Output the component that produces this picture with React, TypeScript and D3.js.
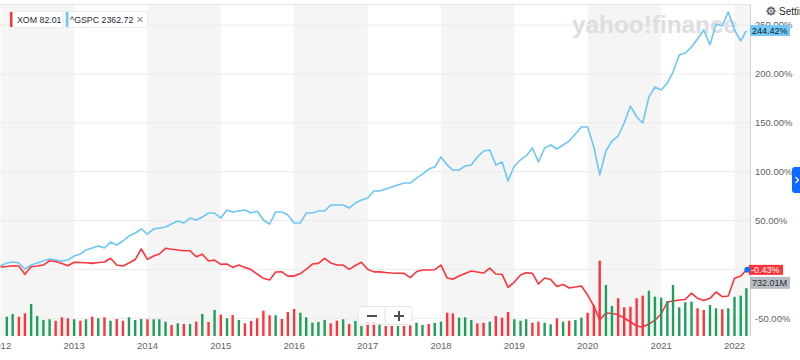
import React from 'react';
import * as d3 from 'd3';

// Monthly % change since start (Jan 2012 .. Mar 2022)
const gspcPct = [
  3.5, 6.6, 7.6, 6.6, 0.4, 4.5, 6.6, 8.6, 10.6, 9.6, 8.6, 9.6,
  13.7, 15.8, 19.9, 21.9, 24.0, 21.9, 28.0, 25.0, 29.1, 34.2, 37.3, 41.4,
  36.2, 41.4, 42.4, 43.4, 46.5, 49.5, 47.5, 52.6, 50.6, 53.6, 57.7, 57.7,
  52.6, 60.8, 58.7, 59.8, 60.8, 57.7, 59.8, 50.6, 46.5, 58.7, 58.7, 55.7,
  47.5, 47.5, 57.7, 57.7, 59.8, 59.8, 65.9, 65.9, 65.9, 62.8, 68.0, 71.0,
  73.1, 80.2, 80.2, 82.3, 84.3, 86.4, 88.4, 88.4, 93.5, 97.6, 102.7, 104.8,
  115.0, 106.8, 101.7, 101.7, 105.8, 106.8, 115.0, 121.2, 122.2, 106.8, 109.9, 90.5,
  105.8, 112.0, 116.1, 124.3, 109.9, 124.3, 127.3, 123.2, 127.3, 131.4, 138.6, 145.8,
  145.8, 125.3, 96.7, 121.2, 131.4, 136.5, 149.8, 167.2, 156.0, 149.8, 176.5, 186.7,
  183.6, 190.8, 202.0, 219.4, 221.5, 227.6, 235.8, 245.0, 229.7, 251.2, 249.1, 263.5,
  245.0, 233.8, 244.42,
];

const xomPct = [
  2.5, 3.0, 3.8, 3.5, -5.0, 2.8, 3.5, 4.5, 8.9, 8.1, 6.0, 3.8,
  7.3, 7.1, 6.9, 6.2, 7.1, 7.6, 11.4, 4.5, 3.5, 6.6, 10.1, 20.9,
  10.3, 13.7, 15.8, 21.6, 20.6, 19.9, 19.1, 19.1, 13.0, 15.5, 8.6, 9.6,
  5.2, 5.5, 2.1, 4.5, 2.1, -0.1, -4.7, -9.1, -10.8, -2.7, -2.4, -6.8,
  -6.8, -4.2, 0.1, 5.5, 6.2, 11.4, 6.6, 4.5, 4.5, 0.1, 4.0, 7.3,
  0.1, -2.5, -2.5, -3.2, -3.7, -3.9, -4.0, -8.3, -2.4, -0.6, -0.6, -0.3,
  4.5, -8.8, -10.1, -6.8, -4.2, -1.6, -2.7, -3.7, 1.4, -4.7, -5.0, -18.3,
  -12.9, -5.7, -3.4, -4.0, -14.9, -8.8, -10.3, -17.5, -15.3, -19.0, -18.0, -17.0,
  -26.2, -37.5, -51.8, -44.6, -45.1, -46.2, -49.7, -53.8, -57.9, -58.9, -55.9, -51.8,
  -45.6, -33.4, -32.3, -31.3, -30.8, -24.2, -29.6, -31.8, -29.6, -23.1, -27.9, -27.2,
  -9.1, -6.8, -0.43,
];

// XOM monthly volume in millions (Feb 2012 .. Mar 2022)
const volumeM = [
  295, 337, 295, 347, 490, 306, 245, 256, 234, 286, 271,
  256, 234, 256, 295, 271, 286, 234, 260, 234, 286, 245, 260,
  256, 256, 256, 219, 168, 194, 184, 184, 219, 337, 214, 398,
  326, 271, 321, 245, 194, 230, 271, 387, 317, 317, 260, 367,
  413, 356, 286, 203, 214, 245, 194, 234, 256, 184, 230, 153,
  214, 214, 194, 153, 153, 153, 153, 161, 203, 168, 184, 199,
  219, 356, 347, 280, 286, 245, 194, 203, 219, 306, 280, 367,
  256, 234, 256, 203, 219, 203, 179, 271, 219, 234, 245, 280,
  356, 474, 1152, 780, 459, 577, 439, 448, 577, 617, 693, 601,
  586, 536, 780, 439, 516, 525, 424, 398, 474, 424, 409, 424,
  601, 617, 732,
];
// G = up month, R = down month
const volumeDir =
  'GGRRGGGGRR' + 'RGRGRGRGRR' + 'GGGRGGGRGR' + 'GRGRGRGRGR' + 'RRRRGRRRGG' +
  'GGGRRGRGGR' + 'RGRRGRRGGR' + 'GGRRGGGRRG' + 'RRRGGGRRGG' + 'RGRGGRRRGG' +
  'RRRRRGGGGG' + 'GGGRRGGRGG' + 'GG';

const yTicks = [250, 200, 150, 100, 50, 0, -50];
const yearTicks = [2012, 2013, 2014, 2015, 2016, 2017, 2018, 2019, 2020, 2021, 2022];
const legendSymbols = ['XOM', '^GSPC'];
const legendValues = ['82.01', '2362.72'];
const lastGspcLabel = '244.42%';
const lastXomLabel = '-0.43%';
const lastVolLabel = '732.01M';

const months = gspcPct.map((_, i) => new Date(2012, i, 1));

const RED = '#ff333a';
const BLUE = '#6cc6f6';
const GREEN = '#1f9f59';
const FONT = 'Arial, "Liberation Sans", Helvetica, sans-serif';

export default function App() {
  const plotRight = 750;
  const x = d3.scaleTime().domain([new Date(2012, 0, 1), new Date(2022, 0, 1)]).range([0.6, 734.5]);
  const y = d3.scaleLinear().domain([-50, 250]).range([318.3, 25.1]);
  const yv = d3.scaleLinear().domain([0, 1530]).range([336, 236]);

  const line = d3
    .line<number>()
    .x((_, i) => x(months[i]))
    .y((d) => y(d));

  const lastX = x(months[months.length - 1]);
  const gy = y(gspcPct[gspcPct.length - 1]);
  const xy = y(xomPct[xomPct.length - 1]);

  return (
    <svg
      width={800}
      height={360}
      style={{ position: 'absolute', left: 0, top: 0, display: 'block', background: '#fff' }}
      fontFamily={FONT}
    >
      {/* year bands */}
      {yearTicks
        .filter((yr) => yr % 2 === 0)
        .map((yr) => {
          const x0 = Math.max(0, x(new Date(yr, 0, 1)));
          const x1 = Math.min(plotRight, x(new Date(yr + 1, 0, 1)));
          return <rect key={yr} x={x0} y={5} width={x1 - x0} height={331} fill="#f5f5f5" />;
        })}
      <line x1={0} x2={plotRight} y1={4.5} y2={4.5} stroke="#e4e4e4" />
      {/* grid */}
      {yTicks.map((t) => (
        <line key={t} x1={0} x2={plotRight} y1={y(t)} y2={y(t)} stroke="#ebebeb" strokeWidth={1} />
      ))}
      {/* watermark */}
      <text x={572} y={33} fontSize={24} fontWeight={700} fill="#dcdee1" textLength={165} lengthAdjust="spacingAndGlyphs">
        yahoo!finance
      </text>
      {/* lines */}
      <path d={line(gspcPct) || ''} fill="none" stroke={BLUE} strokeWidth={1.6} strokeLinejoin="round" />
      <path d={line(xomPct) || ''} fill="none" stroke={RED} strokeWidth={1.6} strokeLinejoin="round" />
      {/* volume */}
      {volumeM.map((v, k) => {
        const i = k + 1;
        const cx = x(months[i]);
        return (
          <rect
            key={i}
            x={cx - 1.2}
            y={yv(v)}
            width={2.4}
            height={yv(0) - yv(v)}
            fill={volumeDir[k] === 'G' ? GREEN : RED}
          />
        );
      })}
      {/* right axis */}
      <line x1={plotRight + 0.5} x2={plotRight + 0.5} y1={5} y2={336} stroke="#cfd1d4" />
      {yTicks
        .filter((t) => t !== 0)
        .map((t) => (
          <text key={t} x={755} y={y(t)} dy="0.35em" fontSize={9.5} fill="#5b636a">
            {t.toFixed(2)}%
          </text>
        ))}
      {/* x axis labels */}
      {yearTicks.map((yr) => (
        <text key={yr} x={x(new Date(yr, 0, 1))} y={346} dy="0.35em" fontSize={9.5} fill="#5b636a" textAnchor="middle">
          {yr}
        </text>
      ))}
      {/* last value flags */}
      <rect x={750} y={gy - 5.5} width={40} height={11} fill="#74c8f6" />
      <text x={752} y={gy} dy="0.35em" fontSize={9} fill="#0d1b2a">
        {lastGspcLabel}
      </text>
      <rect x={749} y={xy - 5} width={34} height={10} fill={RED} />
      <text x={751} y={xy} dy="0.35em" fontSize={9} fill="#fff">
        {lastXomLabel}
      </text>
      <rect x={750} y={xy + 7} width={40} height={12} fill="#b8bcc2" />
      <text x={752} y={xy + 13} dy="0.35em" fontSize={9} fill="#2a2f36">
        {lastVolLabel}
      </text>
      <circle cx={lastX + 1} cy={xy} r={3} fill="#1170f5" />
      {/* legend pills */}
      <g>
        <rect x={9.5} y={11.5} width={54} height={16} fill="#fff" stroke="#ececec" rx={1.5} />
        <rect x={10} y={12} width={2.5} height={15} fill={RED} />
        <text x={17} y={19.5} dy="0.35em" fontSize={8.8} fill="#232a31">
          {legendSymbols[0]} {legendValues[0]}
        </text>
        <rect x={65.5} y={11.5} width={82} height={16} fill="#fff" stroke="#ececec" rx={1.5} />
        <rect x={66} y={12} width={2.5} height={15} fill={BLUE} />
        <text x={70} y={19.5} dy="0.35em" fontSize={8.8} fill="#232a31">
          {legendSymbols[1]} {legendValues[1]}
        </text>
        <path d="M137.5 17 L142.5 22 M142.5 17 L137.5 22" stroke="#5b636a" strokeWidth={1} />
      </g>
      {/* settings */}
      <g transform="translate(771,11)">
        <circle r={3.2} fill="none" stroke="#464e56" strokeWidth={1.2} />
        <circle r={1.2} fill="none" stroke="#464e56" strokeWidth={0.8} />
        {d3.range(8).map((k) => {
          const a = (k * Math.PI) / 4;
          return (
            <line
              key={k}
              x1={Math.cos(a) * 3.2}
              y1={Math.sin(a) * 3.2}
              x2={Math.cos(a) * 4.6}
              y2={Math.sin(a) * 4.6}
              stroke="#464e56"
              strokeWidth={1.3}
            />
          );
        })}
      </g>
      <text x={779} y={11} dy="0.35em" fontSize={10} fill="#232a31">
        Settings
      </text>
      {/* right side tab */}
      <rect x={792} y={167} width={12} height={26} rx={3} fill="#0f69ff" />
      <path d="M795.5 177 L798.5 180 L795.5 183" stroke="#fff" strokeWidth={1.2} fill="none" />
      {/* zoom control */}
      <g>
        <rect x={358} y={306.5} width={54} height={18} rx={3} fill="#ffffff" fillOpacity={0.7} stroke="#e6e6e6" />
        <line x1={385} x2={385} y1={308} y2={323} stroke="#e2e2e2" />
        <line x1={367} x2={377} y1={316} y2={316} stroke="#4a5057" strokeWidth={2} />
        <line x1={394} x2={404} y1={316} y2={316} stroke="#4a5057" strokeWidth={2} />
        <line x1={399} x2={399} y1={311} y2={321} stroke="#4a5057" strokeWidth={2} />
      </g>
    </svg>
  );
}
